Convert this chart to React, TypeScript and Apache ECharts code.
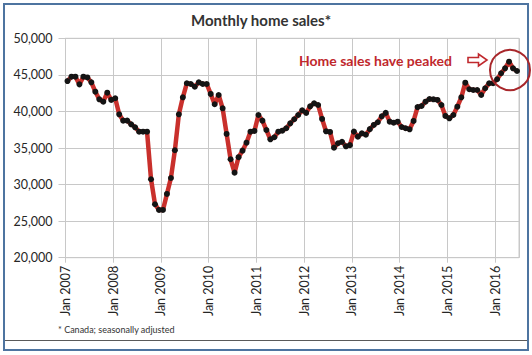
import React, { useEffect, useRef } from "react";
import * as echarts from "echarts";

// Monthly home sales, Canada, seasonally adjusted: Jan 2007 .. Jun 2016
const salesValues: number[] = [
  // 2007
  44150, 44750, 44750, 43700, 44750, 44650, 43980, 42700, 41660, 41330, 42560, 41570,
  // 2008
  41800, 39610, 38740, 38740, 38240, 37830, 37230, 37230, 37230, 30730, 27310, 26530,
  // 2009
  26530, 28720, 30900, 34690, 39610, 41930, 43850, 43750, 43380, 43980, 43750, 43750,
  // 2010
  42390, 40980, 42250, 40430, 36920, 33460, 31630, 33740, 34640, 35730, 37230, 37330,
  // 2011
  39510, 38740, 37460, 36190, 36470, 37230, 37370, 37700, 38380, 38930, 39510, 40150,
  // 2012
  39800, 40700, 41110, 40880, 38970, 37280, 37200, 35050, 35650, 35850, 35230, 35390,
  // 2013
  37240, 36550, 37010, 36820, 37580, 38150, 38520, 39330, 39800, 38600, 38460, 38600,
  // 2014
  37870, 37700, 37560, 38700, 40600, 40740, 41330, 41700, 41660, 41570, 40880, 39380,
  // 2015
  39060, 39510, 40650, 41930, 43930, 43030, 42930, 42930, 42250, 43170, 43850, 43850,
  // 2016
  44400, 45220, 45900, 46800, 45900, 45530,
];

const xTickLabels: string[] = [
  "Jan 2007", "Jan 2008", "Jan 2009", "Jan 2010", "Jan 2011",
  "Jan 2012", "Jan 2013", "Jan 2014", "Jan 2015", "Jan 2016",
];

const yTicks: number[] = [20000, 25000, 30000, 35000, 40000, 45000, 50000];

const titleText = "Monthly home sales*";
const noteText = "* Canada; seasonally adjusted";
const annotationText = "Home sales have peaked";

const FONT = "Lato, 'Open Sans', sans-serif";

export default function App() {
  const ref = useRef<HTMLDivElement>(null);

  useEffect(() => {
    if (!ref.current) return;
    const chart = echarts.init(ref.current, undefined, { renderer: "svg" });
    const red = "#C9302C";
    const gridColor = "#C8C8C8";
    chart.setOption({
      animation: false,
      backgroundColor: "#ffffff",
      textStyle: { fontFamily: FONT },
      grid: {
        left: 65.5,
        right: 13,
        top: 38.3,
        bottom: 97.3,
        show: true,
        borderColor: gridColor,
        borderWidth: 1,
        containLabel: false,
      },
      xAxis: {
        type: "value",
        min: 0,
        max: salesValues.length,
        interval: 12,
        axisLine: { show: true, lineStyle: { color: gridColor } },
        axisTick: { show: true, length: 5, lineStyle: { color: gridColor } },
        splitLine: { show: true, lineStyle: { color: gridColor, width: 1 } },
        axisLabel: {
          rotate: 90,
          margin: 8,
          fontFamily: FONT,
          fontSize: 12.5,
          color: "#262626",
          showMaxLabel: false,
          formatter: (v: number) => {
            const k = Math.round(v / 12);
            return v % 12 === 0 && k < xTickLabels.length ? xTickLabels[k] : "";
          },
        },
      },
      yAxis: {
        type: "value",
        min: yTicks[0],
        max: yTicks[yTicks.length - 1],
        interval: 5000,
        axisLine: { show: true, lineStyle: { color: gridColor } },
        axisTick: { show: true, length: 7, lineStyle: { color: gridColor } },
        splitLine: { show: true, lineStyle: { color: gridColor, width: 1 } },
        axisLabel: {
          margin: 13,
          fontFamily: FONT,
          fontSize: 12.5,
          color: "#262626",
          formatter: (v: number) => v.toLocaleString("en-US"),
        },
      },
      series: [
        {
          type: "line",
          name: "Monthly home sales",
          data: salesValues.map((v, i) => [i + 0.5, v]),
          lineStyle: { color: red, width: 4.5 },
          itemStyle: { color: "#141414" },
          symbol: "circle",
          symbolSize: 6,
          showSymbol: true,
          z: 3,
        },
      ],
      graphic: [
        {
          type: "rect",
          shape: { x: 4, y: 4, width: 524, height: 346 },
          style: { fill: "none", stroke: "#4E74A0", lineWidth: 2 },
          silent: true,
          z: 10,
        },
        {
          type: "line",
          shape: { x1: 5, y1: 340.5, x2: 527, y2: 340.5 },
          style: { stroke: "#5a5a5a", lineWidth: 1 },
          silent: true,
          z: 10,
        },
        {
          type: "text",
          x: 261,
          y: 20,
          style: {
            text: titleText,
            fontFamily: FONT,
            fontWeight: "bold",
            fontSize: 15,
            fill: "#333333",
            textAlign: "center",
            textVerticalAlign: "middle",
          },
        },
        {
          type: "text",
          x: 58,
          y: 329,
          style: {
            text: noteText,
            fontFamily: FONT,
            fontSize: 9,
            fill: "#333333",
            textAlign: "left",
            textVerticalAlign: "middle",
          },
        },
        {
          type: "text",
          x: 299,
          y: 60,
          style: {
            text: annotationText,
            fontFamily: FONT,
            fontWeight: "bold",
            fontSize: 14,
            fill: "#C0282D",
            textAlign: "left",
            textVerticalAlign: "middle",
          },
          z: 12,
        },
        {
          type: "polygon",
          shape: {
            points: [
              [468, 57.5], [478.5, 57.5], [478.5, 54], [487, 60],
              [478.5, 66], [478.5, 62.5], [468, 62.5],
            ],
          },
          style: { fill: "#ffffff", stroke: "#C0282D", lineWidth: 1.6 },
          z: 12,
        },
        {
          type: "circle",
          shape: { cx: 510, cy: 70, r: 20 },
          style: { fill: "none", stroke: "#A8272B", lineWidth: 2 },
          z: 12,
        },
      ],
    });
    return () => chart.dispose();
  }, []);

  return (
    <div
      ref={ref}
      style={{ position: "fixed", left: 0, top: 0, width: 532, height: 355, background: "#fff" }}
    />
  );
}
